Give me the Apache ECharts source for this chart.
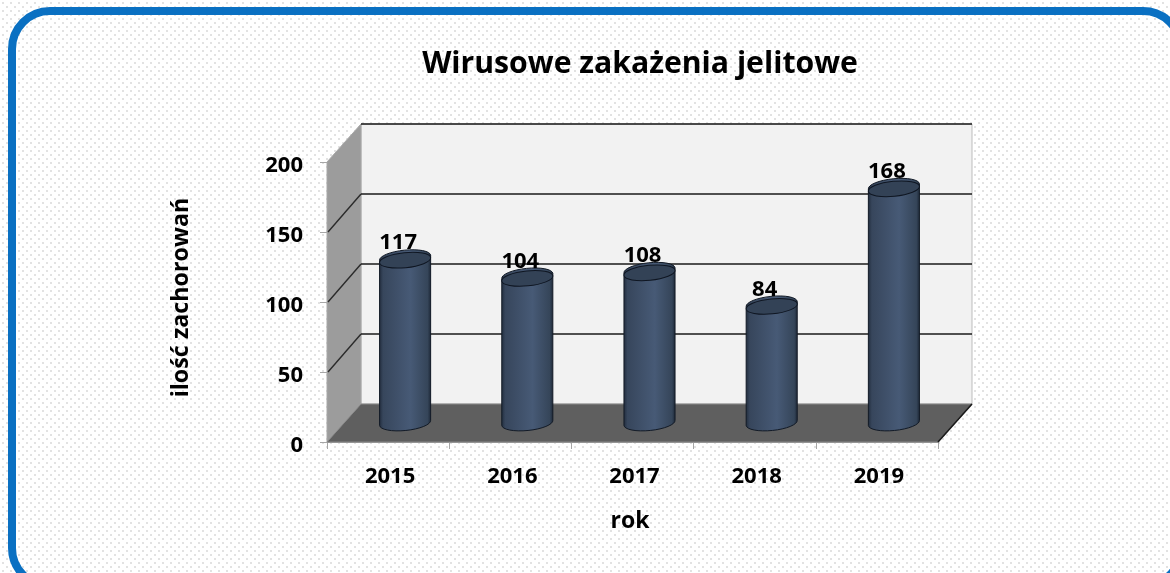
<!DOCTYPE html>
<html>
<head>
<meta charset="utf-8">
<style>html,body{margin:0;padding:0;background:#fff}#c{width:1170px;height:573px}</style>
<script src="https://cdn.jsdelivr.net/npm/echarts@6/dist/echarts.min.js"></script>
</head>
<body>
<div id="c"></div>
<script>
const categories = ['2015', '2016', '2017', '2018', '2019'];
const cases = [117, 104, 108, 84, 168];
const yTicks = [0, 50, 100, 150, 200];
const titleText = 'Wirusowe zakażenia jelitowe';
const yName = 'ilość zachorowań';
const xName = 'rok';

const DX = 34, DY = -38, FONT = '"Open Sans", "Noto Sans", sans-serif';

// dotted paper texture
const tile = document.createElement('canvas');
tile.width = tile.height = 16;
const t = tile.getContext('2d');
t.fillStyle = '#fff'; t.fillRect(0, 0, 16, 16);
t.fillStyle = '#e2e2e2';
[[2, 2], [10, 2], [6, 6], [14, 6], [2, 10], [10, 10], [6, 14], [14, 14]].forEach(p => t.fillRect(p[0], p[1], 2, 2));

const chart = echarts.init(document.getElementById('c'), null, { renderer: 'canvas' });

function chamberItem(params, api) {
  const cs = params.coordSys;
  const L = cs.x, R = cs.x + cs.width, B = cs.y + cs.height, T = cs.y;
  const poly = (points, fill, stroke) => ({
    type: 'polygon', shape: { points },
    style: { fill, stroke: stroke || null, lineWidth: 1 }
  });
  const line = (x1, y1, x2, y2, stroke, lineWidth) => ({
    type: 'line', shape: { x1, y1, x2, y2 }, style: { stroke, lineWidth: lineWidth || 1.4 }
  });
  const kids = [
    poly([[L + DX, T + DY], [R + DX, T + DY], [R + DX, B + DY], [L + DX, B + DY]], '#f2f2f2', '#bdbdbd'),
    poly([[L, T], [L + DX, T + DY], [L + DX, B + DY], [L, B]], '#9c9c9c', '#a8a8a8'),
    poly([[L, B], [L + DX, B + DY], [R + DX, B + DY], [R, B]], '#5f5f5f', '#8a8a8a')
  ];
  yTicks.forEach(v => {
    if (v === 0) return;
    const y = api.coord([0, v])[1];
    kids.push(line(L + DX, y + DY, R + DX, y + DY, '#1a1a1a'));
    if (v !== 200) kids.push(line(L + 1, y, L + DX, y + DY, '#2a2a2a'));
  });
  kids.push(line(R, B, R + DX, B + DY, '#1a1a1a', 1.6));
  return { type: 'group', children: kids };
}

function cylinderItem(params, api) {
  const idx = api.value(0), val = api.value(1);
  const top = api.coord([idx, val]), base = api.coord([idx, 0]);
  const rx = api.size([1, 0])[0] * 0.21;
  const cx = top[0] + DX / 2, tY = top[1] + DY / 2 + 1, bY = base[1] + DY / 2;
  const ry = 7.5, rot = 0.1;
  const dx = rx * Math.cos(rot), dy = rx * Math.sin(rot);
  const body = `M${cx - dx} ${tY + dy} L${cx - dx} ${bY + dy} ` +
    `A${rx} ${ry} ${-rot * 57.3} 0 0 ${cx + dx} ${bY - dy} L${cx + dx} ${tY - dy} ` +
    `A${rx} ${ry} ${-rot * 57.3} 0 0 ${cx - dx} ${tY + dy} Z`;
  return {
    type: 'group',
    children: [
      {
        type: 'path',
        shape: { pathData: body, layout: 'cover', x: cx - rx, y: tY - ry - dy, width: 2 * rx, height: bY - tY + 2 * ry + dy },
        style: {
          fill: new echarts.graphic.LinearGradient(0, 0, 1, 0, [
            { offset: 0, color: '#202b3b' },
            { offset: 0.08, color: '#37465c' },
            { offset: 0.6, color: '#475a76' },
            { offset: 0.93, color: '#354559' },
            { offset: 1, color: '#1a2433' }
          ]),
          stroke: '#121a26', lineWidth: 1
        }
      },
      {
        type: 'ellipse',
        x: cx, y: tY, rotation: rot,
        shape: { cx: 0, cy: 0, rx: rx, ry: ry },
        style: { fill: '#334256', stroke: '#0f1622', lineWidth: 1 }
      },
      {
        type: 'text',
        style: {
          x: cx - 7, y: tY - 17, text: String(val),
          font: 'bold 22px ' + FONT, fill: '#000', align: 'center', verticalAlign: 'middle'
        },
        z2: 10
      }
    ]
  };
}

chart.setOption({
  animation: false,
  backgroundColor: { image: tile, repeat: 'repeat' },
  title: {
    text: titleText, left: 640, top: 64, textAlign: 'center', textVerticalAlign: 'middle', padding: [0, 8, 0, 0],
    textStyle: { fontFamily: FONT, fontWeight: 'bold', fontSize: 30.2, color: '#000' }
  },
  graphic: [{
    type: 'rect', silent: true, z: -1,
    shape: { x: 12, y: 11, width: 1169, height: 575, r: 38 },
    style: { fill: 'transparent', stroke: '#0a70c2', lineWidth: 8 }
  }],
  grid: { left: 327, right: 232, top: 162, bottom: 131 },
  xAxis: {
    type: 'category', data: categories, boundaryGap: true,
    name: xName, nameLocation: 'middle', nameGap: 68,
    nameTextStyle: { fontFamily: FONT, fontWeight: 'bold', fontSize: 23, color: '#000', padding: [0, 5, 0, 0] },
    axisLine: { show: true, lineStyle: { color: '#a0a0a0' } },
    axisTick: { show: true, length: 7, alignWithLabel: false, lineStyle: { color: '#a6a6a6' } },
    axisLabel: { fontFamily: FONT, fontWeight: 'bold', fontSize: 22, color: '#000', margin: 24, padding: [0, 0, 0, 4] }
  },
  yAxis: {
    type: 'value', min: 0, max: 200, interval: 50,
    name: yName, nameLocation: 'middle', nameGap: 134, nameRotate: 90,
    nameTextStyle: { fontFamily: FONT, fontWeight: 'bold', fontSize: 23.3, color: '#000', padding: [0, 0, 0, 9] },
    axisLine: { show: false },
    axisTick: { show: true, length: 7, lineStyle: { color: '#a6a6a6' } },
    splitLine: { show: false },
    axisLabel: { fontFamily: FONT, fontWeight: 'bold', fontSize: 22, color: '#000', margin: 24, verticalAlign: 'top', lineHeight: 8 }
  },
  series: [
    { type: 'custom', coordinateSystem: 'cartesian2d', renderItem: chamberItem, data: [[0, 0]], z: 1, silent: true, clip: false },
    { type: 'custom', coordinateSystem: 'cartesian2d', renderItem: cylinderItem,
      encode: { x: 0, y: 1 }, data: cases.map((v, i) => [i, v]), z: 2, silent: true, clip: false }
  ]
});
</script>
</body>
</html>
